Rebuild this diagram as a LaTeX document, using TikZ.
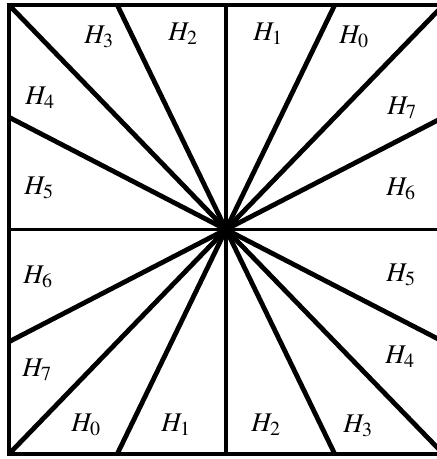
\documentclass[tikz,border=0pt]{standalone}
\usepackage{mathptmx}
\begin{document}
\begin{tikzpicture}[x=1pt,y=1pt,
    ray/.style={line width=4.8pt},
    edge/.style={line width=3.2pt},
    lab/.style={font=\fontsize{27}{32}\selectfont}]
  \useasboundingbox (0,0) rectangle (437,459);
  \clip (0,0) rectangle (437,459);
  % frame and axes (square runs past the right border)
  \coordinate (o) at (226,229.5);
  \draw[edge] (9,5) rectangle (443.5,454);
  \draw[edge] (9,229.5) -- (443.5,229.5);
  \draw[edge] (226,5) -- (226,454);
  % slanted lines through the centre
  \draw[ray] (9,454) -- (o) -- (443.5,5);
  \draw[ray] (9,5) -- (o) -- (443.5,454);
  \draw[ray] (117.25,454) -- (o) -- (334.75,5);
  \draw[ray] (334.75,454) -- (o) -- (117.25,5);
  \draw[ray] (9,341.75) -- (o) -- (443.5,117.25);
  \draw[ray] (9,117.25) -- (o) -- (443.5,341.75);
  % labels, top row
  \node[lab] (t3) at (99,422) {$H_3$};
  \node[lab] (t2) at (183,425) {$H_2$};
  \node[lab] (t1) at (268,425) {$H_1$};
  \node[lab] (t0) at (354,422) {$H_0$};
  % left column
  \node[lab] (l4) at (40,361) {$H_4$};
  \node[lab] (l5) at (39,271) {$H_5$};
  \node[lab] (l6) at (38,182) {$H_6$};
  \node[lab] (l7) at (37,89) {$H_7$};
  % right column
  \node[lab] (r7) at (402,351) {$H_7$};
  \node[lab] (r6) at (401,270) {$H_6$};
  \node[lab] (r5) at (401,184) {$H_5$};
  \node[lab] (r4) at (400,102) {$H_4$};
  % bottom row
  \node[lab] (b0) at (86,34) {$H_0$};
  \node[lab] (b1) at (176,34) {$H_1$};
  \node[lab] (b2) at (266,34) {$H_2$};
  \node[lab] (b3) at (358,33) {$H_3$};
\end{tikzpicture}
\end{document}
